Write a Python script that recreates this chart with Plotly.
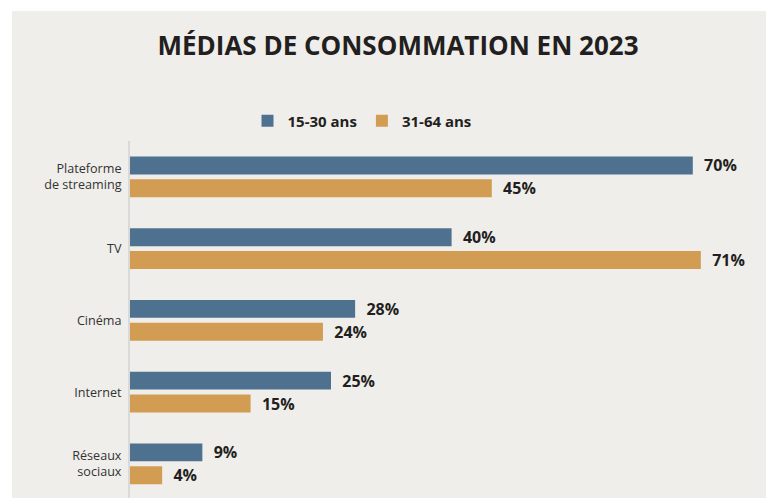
import plotly.graph_objects as go

categories = ["Plateforme<br>de streaming", "TV", "Cinéma", "Internet", "Réseaux<br>sociaux"]
young = [70, 40, 28, 25, 9]
older = [45, 71, 24, 15, 4]
series_names = ["15-30 ans", "31-64 ans"]
title_text = "MÉDIAS DE CONSOMMATION EN 2023"

BLUE = "#4f7190"
ORANGE = "#d29d52"
BG = "#efeeeb"
TXT = "#231f20"
FONT = "Open Sans"

# page has an 8px body margin: figure pixel = page pixel - 8
OFF = 8
W, H = 774 - OFF, 498 - OFF
ML, MR, MT, MB = 130 - OFF, 0, 141 - OFF, 0
pw, ph = W - ML - MR, H - MT - MB

fig = go.Figure()
for name, vals, col in [(series_names[0], young, BLUE), (series_names[1], older, ORANGE)]:
    fig.add_trace(go.Bar(
        y=categories, x=vals, name=name, orientation="h",
        marker=dict(color=col, line=dict(width=0)),
        texttemplate="  %{x}%", textposition="outside",
        textfont=dict(family=FONT, size=16, color=TXT, weight="bold"),
        constraintext="none", cliponaxis=False,
        hoverinfo="skip",
    ))

fig.add_shape(type="rect", xref="paper", yref="paper",
              x0=(12 - OFF - ML) / pw, x1=1.0, y0=0, y1=(H - (11 - OFF)) / ph,
              fillcolor=BG, line=dict(width=0), layer="below")

fig.update_layout(
    width=W, height=H,
    margin=dict(l=ML, r=MR, t=MT, b=MB, pad=0),
    paper_bgcolor="white", plot_bgcolor="rgba(0,0,0,0)",
    barmode="group", bargap=0.36, bargroupgap=0.217,
    title=dict(text=title_text, x=(398 - OFF - ML) / pw, xref="paper", xanchor="center",
               y=(H - (46 - OFF)) / H, yanchor="middle",
               font=dict(family=FONT, size=26, color=TXT, weight="bold")),
    legend=dict(orientation="h", x=(239.5 - ML) / pw, xanchor="left",
                y=(H - (121 - OFF) - MB) / ph, yref="paper", yanchor="middle",
                font=dict(family=FONT, size=15, color=TXT, weight="bold"),
                bgcolor="rgba(0,0,0,0)", itemclick=False),
    showlegend=True,
    xaxis=dict(range=[0, pw / 8.04], visible=False, fixedrange=True),
    yaxis=dict(range=[4.476, -0.5], showline=True, linecolor="#d9d9d9", linewidth=2,
               showgrid=False, zeroline=False, ticks="", ticklabelstandoff=4,
               tickfont=dict(family=FONT, size=12.6, color="#333333"), fixedrange=True),
)

fig.write_html("out.html")
